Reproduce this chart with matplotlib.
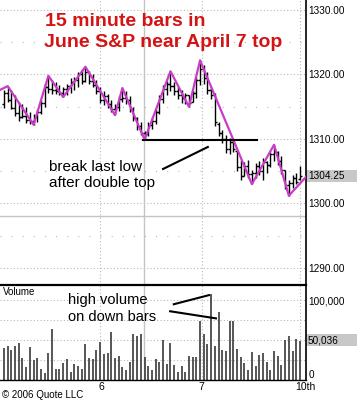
import numpy as np
import matplotlib
matplotlib.use("Agg")
import matplotlib.pyplot as plt
from matplotlib.patches import Rectangle
from matplotlib.transforms import blended_transform_factory

plt.rcParams['font.family'] = ['Liberation Sans', 'DejaVu Sans']

# 15 minute OHLC bars, June S&P (81 bars)
high = [1317.6, 1318.2, 1317.6, 1316.8, 1315.8, 1315.5, 1315.0, 1314.2, 1313.8, 1314.5,
        1316.0, 1318.5, 1319.8, 1319.2, 1318.8, 1318.4, 1318.0, 1318.6, 1319.4, 1319.6,
        1320.4, 1320.8, 1321.2, 1320.6, 1320.0, 1319.2, 1318.0, 1317.4, 1317.0, 1316.0,
        1315.4, 1316.6, 1317.9, 1317.4, 1316.6, 1315.0, 1313.4, 1312.6, 1311.2, 1312.6,
        1313.4, 1314.6, 1316.8, 1318.4, 1319.0, 1320.5, 1318.8, 1318.0, 1317.6, 1317.2,
        1316.8, 1317.6, 1319.6, 1322.2, 1321.5, 1320.4, 1318.0, 1317.2, 1312.6, 1311.4,
        1310.6, 1310.2, 1309.8, 1308.2, 1306.8, 1306.4, 1306.8, 1305.2, 1306.2, 1306.6,
        1307.0, 1306.6, 1308.0, 1309.1, 1308.2, 1307.4, 1305.2, 1303.6, 1304.4, 1304.8,
        1305.8]
low = [1314.8, 1315.8, 1314.6, 1313.6, 1312.8, 1313.2, 1312.5, 1312.4, 1312.2, 1312.6,
       1313.8, 1315.0, 1317.2, 1317.0, 1316.9, 1316.8, 1316.5, 1316.8, 1317.2, 1317.6,
       1318.0, 1318.6, 1318.8, 1318.6, 1318.0, 1317.0, 1315.6, 1315.2, 1314.8, 1314.2,
       1313.7, 1314.4, 1315.8, 1315.5, 1314.2, 1312.8, 1311.4, 1310.6, 1309.9, 1310.4,
       1311.6, 1312.4, 1313.8, 1315.6, 1316.8, 1317.4, 1316.8, 1316.2, 1315.6, 1315.4,
       1315.0, 1315.8, 1316.4, 1318.4, 1318.6, 1317.0, 1316.2, 1312.0, 1310.4, 1309.4,
       1307.8, 1307.6, 1308.0, 1305.0, 1303.6, 1304.2, 1304.0, 1303.0, 1304.0, 1304.4,
       1303.6, 1304.8, 1305.6, 1306.6, 1306.0, 1304.6, 1302.2, 1301.2, 1302.4, 1303.0,
       1303.6]
opn = [1315.4, 1317.2, 1316.0, 1314.8, 1314.0, 1313.4, 1313.6, 1313.0, 1312.8, 1313.4,
       1314.2, 1315.6, 1318.0, 1317.8, 1317.6, 1317.4, 1317.2, 1317.8, 1318.2, 1318.8,
       1319.2, 1320.0, 1319.0, 1320.4, 1319.0, 1318.4, 1317.4, 1316.0, 1316.6, 1315.4,
       1314.6, 1315.0, 1316.2, 1316.4, 1316.0, 1314.6, 1313.2, 1312.0, 1311.0, 1310.8,
       1312.2, 1312.8, 1314.2, 1316.2, 1317.8, 1318.6, 1318.2, 1317.4, 1316.8, 1316.4,
       1316.8, 1315.8, 1317.2, 1319.2, 1320.8, 1319.4, 1317.6, 1316.8, 1312.4, 1311.0,
       1310.0, 1308.4, 1309.6, 1308.2, 1305.6, 1304.2, 1305.8, 1304.6, 1304.8, 1305.8,
       1305.0, 1306.4, 1306.0, 1307.6, 1308.0, 1306.6, 1305.2, 1302.8, 1303.2, 1304.0,
       1303.8]
close = [1317.2, 1316.0, 1314.8, 1314.0, 1313.4, 1313.6, 1313.0, 1312.8, 1313.4, 1314.2,
         1315.6, 1318.0, 1317.8, 1317.6, 1317.4, 1317.2, 1317.8, 1318.2, 1318.8, 1319.2,
         1320.0, 1319.0, 1320.4, 1319.0, 1318.4, 1317.4, 1316.0, 1316.6, 1315.4, 1314.6,
         1315.0, 1316.2, 1316.4, 1316.0, 1314.6, 1313.2, 1312.0, 1311.0, 1310.8, 1312.2,
         1312.8, 1314.2, 1316.2, 1317.8, 1318.6, 1318.2, 1317.4, 1316.8, 1316.4, 1316.8,
         1315.6, 1317.2, 1319.2, 1320.8, 1319.4, 1317.6, 1316.8, 1312.6, 1311.0, 1310.0,
         1308.4, 1309.6, 1308.4, 1305.6, 1304.2, 1305.8, 1304.6, 1304.8, 1305.8, 1305.0,
         1306.4, 1306.0, 1307.6, 1308.0, 1306.6, 1305.2, 1302.8, 1303.2, 1304.0, 1303.4,
         1304.25]

# volume in thousands
volume = [40, 42, 38, 42, 46, 28, 16, 41, 25, 28, 14, 9, 34, 64, 13.5, 13.5, 21, 26, 10.5, 20,
          17, 13.5, 45, 27, 26, 37, 48, 32, 34, 60, 27, 30, 16.5, 12.7, 22, 57, 55, 57, 29, 17,
          12, 26, 22, 50, 20, 46, 18.5, 10, 18, 10, 30, 29, 29, 74, 57, 45, 108, 43, 85, 38,
          36, 74, 74, 39, 29, 21.5, 12.7, 35, 18, 31, 34, 23, 12.7, 36, 30, 19, 50, 55, 36, 51,
          48.5]

# swing (zigzag) line
swing_x = [-1.1, 1, 8, 12, 16, 22, 30, 32, 38, 45, 50, 53, 67, 73, 77, 81.6]
swing_y = [1317.6, 1318.2, 1312.2, 1319.8, 1316.5, 1321.2, 1313.7, 1317.9, 1309.9,
           1320.5, 1315.0, 1322.2, 1303.0, 1309.1, 1301.2, 1304.1]

day_ticks = [26.3, 53.4, 81.4]
day_labels = ['6', '7', '10th']
grid_x = [26, 53.4, 80]
session_x = 37.9
last_price = 1304.25
last_volume = 50036

x = np.arange(len(high))
XMIN, XMAX = -1.08, 81.62

fig = plt.figure(figsize=(3.57, 4.0), dpi=100)
ax = fig.add_axes([0, 0.2875, 0.857, 0.7125])
axv = fig.add_axes([0, 0.05, 0.857, 0.2375], sharex=ax)

# ---- price panel
ax.set_xlim(XMIN, XMAX)
ax.set_ylim(1287.36, 1331.55)
for p in range(1290, 1331, 10):
    ax.axhline(p, color='#b8b8b8', lw=0.8, ls=(0, (1, 2)), zorder=0)
for p in range(1295, 1331, 10):
    ax.axhline(p, color='#b8b8b8', lw=0.8, ls=(0, (1, 9)), zorder=0)
for gx in grid_x:
    ax.axvline(gx, color='#b8b8b8', lw=0.8, ls=(0, (1, 2)), zorder=0)
ax.axvline(session_x, color='#c4c4c4', lw=1, zorder=0)
ax.axhline(1298.05, color='#c4c4c4', lw=1, zorder=0)

ax.vlines(x, low, high, color='black', lw=1)
ax.hlines(opn, x - 0.55, x, color='black', lw=1)
ax.hlines(close, x, x + 0.55, color='black', lw=1)
ax.plot(swing_x, swing_y, color='#c83cc8', lw=1.6, zorder=5)

# annotation lines
ax.plot([37.6, 68.4], [1309.9, 1309.9], color='black', lw=1.5, zorder=6)
ax.plot([43.0, 55.1], [1305.35, 1308.76], color='black', lw=1.5, zorder=6)

ax.yaxis.tick_right()
ax.set_yticks([1290, 1300, 1310, 1320, 1330])
ax.set_yticklabels(['1290.00', '1300.00', '1310.00', '1320.00', '1330.00'])
ax.tick_params(axis='y', length=0, pad=1.5, labelsize=7.2)
ax.tick_params(axis='x', length=0, labelbottom=False)
for s in ['top', 'left', 'bottom']:
    ax.spines[s].set_visible(False)
ax.spines['right'].set_linewidth(1.2)

tr = blended_transform_factory(ax.transAxes, ax.transData)
ax.add_patch(Rectangle((1.0, last_price - 0.93), 0.168, 1.86, transform=tr,
                       facecolor='#c8c8c8', edgecolor='none', clip_on=False))
ax.text(1.006, last_price, f'{last_price:.2f}', transform=tr, fontsize=7.2,
        va='center', ha='left', clip_on=False)

# ---- volume panel
axv.set_ylim(0, 119)
for v in [25, 50, 75, 100]:
    axv.axhline(v, color='#b8b8b8', lw=0.8, ls=(0, (1, 2)), zorder=0)
for gx in grid_x:
    axv.axvline(gx, color='#b8b8b8', lw=0.8, ls=(0, (1, 2)), zorder=0)
axv.axvline(session_x, color='#c4c4c4', lw=1, zorder=0)
axv.vlines(x, 0, volume, color='#3a3a3a', lw=1.2)

axv.plot([45.9, 55.4], [94.9, 106.3], color='black', lw=1.5)
axv.plot([44.9, 57.3], [86.1, 77.2], color='black', lw=1.5)

trv = blended_transform_factory(axv.transAxes, axv.transData)
axv.yaxis.tick_right()
axv.set_yticks([100])
axv.set_yticklabels(['100,000'])
axv.tick_params(axis='y', length=0, pad=1.5, labelsize=7.2)
axv.text(1.01, 0.5, '0', transform=trv, fontsize=7.2, va='bottom', ha='left',
         clip_on=False)
axv.set_xticks(day_ticks)
axv.set_xticklabels(day_labels)
axv.tick_params(axis='x', length=0, pad=1.5, labelsize=7.5)
axv.spines['left'].set_visible(False)
axv.spines['top'].set_linewidth(1.6)
axv.spines['right'].set_linewidth(1.2)
axv.spines['bottom'].set_linewidth(1.0)

axv.add_patch(Rectangle((1.0, last_volume / 1000 - 7.4), 0.168, 14.8, transform=trv,
                        facecolor='#c8c8c8', edgecolor='none', clip_on=False))
axv.text(1.006, last_volume / 1000, f'{last_volume:,}', transform=trv, fontsize=7.2,
         va='center', ha='left', clip_on=False)
axv.text(0.01, 0.93, 'Volume', transform=axv.transAxes, fontsize=7, va='center')

# ---- texts
W, H = 357, 400
red = '#d41414'
fig.text(45 / W, 1 - 21.7 / H, '15 minute bars in', color=red, fontsize=14,
         fontweight='bold', va='center', ha='left')
fig.text(44 / W, 1 - 42.3 / H, 'June S&P near April 7 top', color=red, fontsize=14,
         fontweight='bold', va='center', ha='left')
fig.text(49 / W, 1 - 166.7 / H, 'break last low', fontsize=11, va='center')
fig.text(49 / W, 1 - 183.3 / H, 'after double top', fontsize=11, va='center')
fig.text(67.7 / W, 1 - 300 / H, 'high volume', fontsize=10.5, va='center')
fig.text(67.7 / W, 1 - 316.7 / H, 'on down bars', fontsize=10.5, va='center')
fig.text(2 / W, 1 - 395 / H, '\u00a9 2006 Quote LLC', fontsize=7, va='center')

fig.savefig('out.png', dpi=100)
